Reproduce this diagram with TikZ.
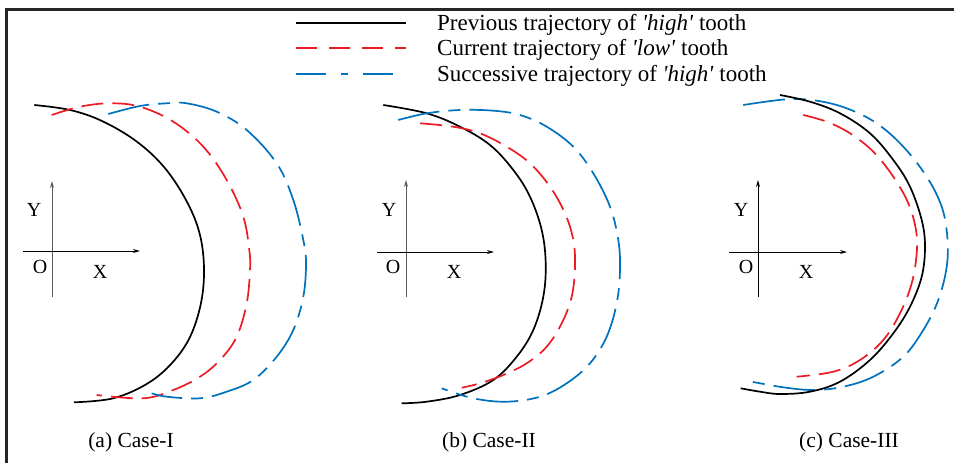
\documentclass[tikz,border=0pt]{standalone}
\usepackage{fontspec}
\setmainfont{Liberation Serif}
\usetikzlibrary{arrows.meta}
\definecolor{cred}{RGB}{237,28,36}
\definecolor{cblue}{RGB}{0,114,189}
\definecolor{axgray}{RGB}{90,90,90}
\begin{document}
\begin{tikzpicture}[x=1pt,y=-1pt,
  prev/.style={line width=1.7pt, black},
  curr/.style={line width=1.7pt, cred, dash pattern=on 22pt off 9pt},
  succ/.style={line width=1.7pt, cblue, dash pattern=on 42pt off 9pt on 12pt off 9pt},
  legcurr/.style={line width=1.7pt, cred, dash pattern=on 21pt off 12pt},
  legsucc/.style={line width=1.7pt, cblue, dash pattern=on 30pt off 15pt on 7pt off 15pt},
  axisline/.style={line width=1pt, -{Stealth[length=7pt,width=4pt]}},
  axlab/.style={font=\fontsize{20}{22}\selectfont, inner sep=0pt},
  caption/.style={font=\fontsize{21.5}{24}\selectfont, anchor=base, inner sep=0pt},
  legtext/.style={font=\fontsize{23}{26}\selectfont, anchor=base west, inner sep=0pt},
  frame/.style={line width=2.4pt, black!85},
  sm/.style={smooth, tension=0.6}]
\useasboundingbox (0,0) rectangle (954,463);
% frame
\coordinate (fbl) at (6.5,463);
\coordinate (ftl) at (6.5,9.5);
\coordinate (ftr) at (954,9.5);
\draw[frame] (fbl) -- (ftl) -- (ftr);
% legend
\coordinate (l1a) at (296,23); \coordinate (l1b) at (406,23);
\coordinate (l2a) at (296,48); \coordinate (l2b) at (406,48);
\coordinate (l3a) at (296,74); \coordinate (l3b) at (406,74);
\draw[prev] (l1a) -- (l1b);
\draw[legcurr] (l2a) -- (l2b);
\draw[legsucc] (l3a) -- (l3b);
\node[legtext] (leg1) at (437,30.5) {Previous trajectory of \textit{\textquotesingle high\textquotesingle} tooth};
\node[legtext] (leg2) at (437,56) {Current trajectory of \textit{\textquotesingle low\textquotesingle} tooth};
\node[legtext] (leg3) at (437,81.5) {Successive trajectory of \textit{\textquotesingle high\textquotesingle} tooth};
% ---------- panel (a)
\coordinate (ayb) at (52,297); \coordinate (ayt) at (52,181);
\coordinate (axl) at (23,251); \coordinate (axr) at (140,251);
\draw[axisline, axgray] (ayb) -- (ayt);
\draw[axisline] (axl) -- (axr);
\node[axlab] (aY) at (34,210) {Y};
\node[axlab] (aO) at (40,267) {O};
\node[axlab] (aX) at (100,272) {X};
\draw[prev] plot[sm] coordinates {(34.3,105) (70,110) (102,121) (136,141) (164,167) (186,200) (199.5,233) (204,268) (201,303) (190,337) (172,363) (147.5,383.5) (113.3,398.3) (74,402.3)};
\draw[curr] plot[sm] coordinates {(51.7,115) (80,106.7) (110,103.3) (140,106.7) (173.3,121.7) (203.3,146.7) (226.7,180) (243.3,216.7) (249.3,250) (250,270) (246.7,303.3) (236.7,336.7) (220,360) (200,376.7) (173.3,390) (143.3,398.3) (96.7,395)};
\draw[succ] plot[sm] coordinates {(108.3,114) (140,106) (166.7,103.3) (186.7,103.3) (216.7,111.7) (246.7,130) (276.7,163.3) (293.3,200) (303.3,240) (306,263.3) (303.3,296.7) (293.3,330) (276.7,356.7) (253.3,380) (226.7,391.7) (200,398.3) (166.7,396.7) (151.7,393.3)};
\node[caption] (capa) at (131,447.5) {(a) Case-I};
% ---------- panel (b)
\coordinate (byb) at (406,297); \coordinate (byt) at (406,180);
\coordinate (bxl) at (377,252); \coordinate (bxr) at (494,252);
\draw[axisline, axgray] (byb) -- (byt);
\draw[axisline] (bxl) -- (bxr);
\node[axlab] (bY) at (389,210) {Y};
\node[axlab] (bO) at (393,267) {O};
\node[axlab] (bX) at (454,272) {X};
\draw[prev] plot[sm] coordinates {(383.3,105) (426.7,113.3) (460,126.7) (490,145) (513.3,170) (530,196.7) (541.7,230) (545.7,263.3) (543.3,296.7) (533.3,330) (516.7,356.7) (493.3,380) (460,395) (426.7,401.7) (401.7,403.3)};
\draw[curr] plot[sm] coordinates {(420,123.3) (453.3,126.7) (480,133.3) (506.7,146.7) (530,163.3) (550,186.7) (565,213.3) (573.3,240) (575,266.7) (571.7,296.7) (561.7,323.3) (546.7,346.7) (526.7,363.3) (503.3,375) (480,383.3) (461.7,387.7)};
\draw[succ] plot[sm] coordinates {(398.3,120) (426.7,113.3) (460,110) (493.3,110.7) (520,115) (546.7,126.7) (573.3,146.7) (593.3,173.3) (610,206.7) (618.3,240) (620,270) (616.7,303.3) (606.7,336.7) (590,363.3) (566.7,383.3) (540,396.7) (506.7,401.7) (473.3,398.3) (441.7,388.3)};
\node[caption] (capb) at (489,447.5) {(b) Case-II};
% ---------- panel (c)
\coordinate (cyb) at (758,297); \coordinate (cyt) at (758,180);
\coordinate (cxl) at (729,252); \coordinate (cxr) at (847,252);
\draw[axisline] (cyb) -- (cyt);
\draw[axisline] (cxl) -- (cxr);
\node[axlab] (cY) at (741,210) {Y};
\node[axlab] (cO) at (746,267) {O};
\node[axlab] (cX) at (806,272) {X};
\draw[succ] plot[sm] coordinates {(743.3,105) (786.7,99.3) (816.7,100.7) (846.7,108.3) (876.7,123.3) (903.3,146.7) (926.7,176.7) (941.7,206.7) (947.3,236.7) (946.7,266.7) (938.3,300) (923.3,330) (903.3,356.7) (873.3,376.7) (843.3,386.7) (813.3,390) (783.3,387.3) (751.7,381.7)};
\draw[curr] plot[sm] coordinates {(803.3,115) (826.7,121.7) (850,133.3) (873.3,151.7) (893.3,176.7) (908.3,203.3) (916,230) (916.7,253.3) (911.7,283.3) (900,313.3) (883.3,340) (860,360) (833.3,371.7) (796.7,376.7)};
\draw[prev] plot[sm] coordinates {(780,95) (810,101.7) (840,113.3) (870,133.3) (893.3,160) (910,186.7) (921.7,220) (925,246.7) (921.7,276.7) (910,306.7) (893.3,333.3) (870,360) (840,381.7) (810,391.7) (780,394) (760,391.7) (740.7,388.3)};
\node[caption] (capc) at (849,447.5) {(c) Case-III};
\end{tikzpicture}
\end{document}
